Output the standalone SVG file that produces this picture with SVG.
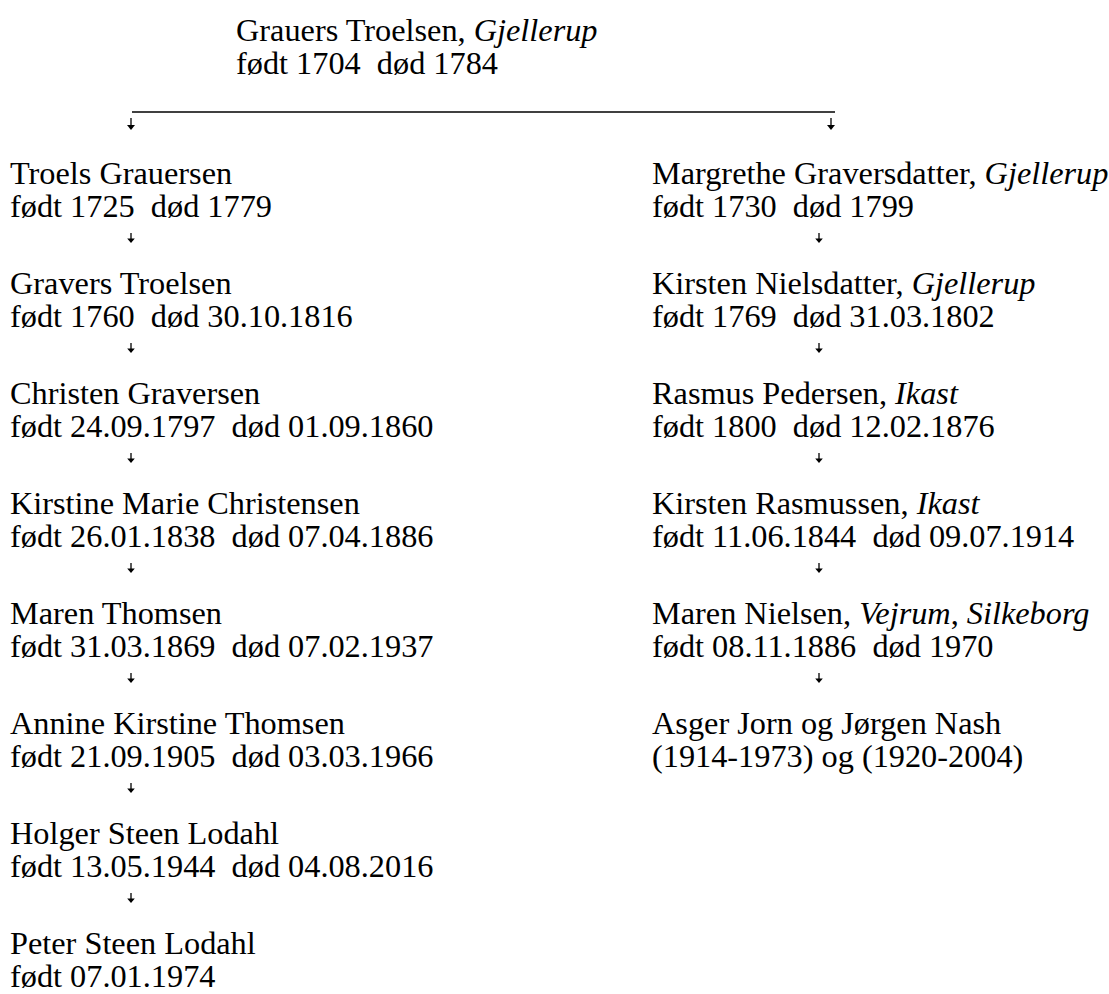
<svg xmlns="http://www.w3.org/2000/svg" xmlns:xlink="http://www.w3.org/1999/xlink" width="1109" height="994" viewBox="0 0 1109 994">
<style>
text{font-family:"Liberation Serif","Times New Roman",serif;font-size:32.3px;fill:#000;white-space:pre}
.i{font-style:italic}
</style>
<defs>
<g id="arr"><line x1="0" y1="0" x2="0" y2="7" stroke="#000" stroke-width="1.3"/><path d="M-3.8,5.5 L3.8,5.5 L0,10 Z" fill="#000"/></g>
<g id="arrT"><line x1="0" y1="0" x2="0" y2="8" stroke="#000" stroke-width="1.3"/><path d="M-4,7 L4,7 L0,12 Z" fill="#000"/></g>
</defs>
<rect width="1109" height="994" fill="#fff"/>
<g id="n-root"><text x="236" y="41">Grauers Troelsen, <tspan class="i">Gjellerup</tspan></text><text x="236" y="74">født 1704  død 1784</text></g>
<g id="connectors">
<line x1="132" y1="112" x2="835" y2="112" stroke="#000" stroke-width="1.3"/>
<use xlink:href="#arrT" x="131" y="118"/>
<use xlink:href="#arrT" x="831" y="118"/>
<use xlink:href="#arr" x="131" y="233"/>
<use xlink:href="#arr" x="131" y="343"/>
<use xlink:href="#arr" x="131" y="453"/>
<use xlink:href="#arr" x="131" y="563"/>
<use xlink:href="#arr" x="131" y="673"/>
<use xlink:href="#arr" x="131" y="783"/>
<use xlink:href="#arr" x="131" y="893"/>
<use xlink:href="#arr" x="819" y="233"/>
<use xlink:href="#arr" x="819" y="343"/>
<use xlink:href="#arr" x="819" y="453"/>
<use xlink:href="#arr" x="819" y="563"/>
<use xlink:href="#arr" x="819" y="673"/>
</g>
<g id="n-l0"><text x="10" y="184">Troels Grauersen</text><text x="10" y="217">født 1725  død 1779</text></g>
<g id="n-l1"><text x="10" y="294">Gravers Troelsen</text><text x="10" y="327">født 1760  død 30.10.1816</text></g>
<g id="n-l2"><text x="10" y="404">Christen Graversen</text><text x="10" y="437">født 24.09.1797  død 01.09.1860</text></g>
<g id="n-l3"><text x="10" y="514">Kirstine Marie Christensen</text><text x="10" y="547">født 26.01.1838  død 07.04.1886</text></g>
<g id="n-l4"><text x="10" y="624">Maren Thomsen</text><text x="10" y="657">født 31.03.1869  død 07.02.1937</text></g>
<g id="n-l5"><text x="10" y="734">Annine Kirstine Thomsen</text><text x="10" y="767">født 21.09.1905  død 03.03.1966</text></g>
<g id="n-l6"><text x="10" y="844">Holger Steen Lodahl</text><text x="10" y="877">født 13.05.1944  død 04.08.2016</text></g>
<g id="n-l7"><text x="10" y="954">Peter Steen Lodahl</text><text x="10" y="987">født 07.01.1974</text></g>
<g id="n-r0"><text x="652" y="184">Margrethe Graversdatter, <tspan class="i">Gjellerup</tspan></text><text x="652" y="217">født 1730  død 1799</text></g>
<g id="n-r1"><text x="652" y="294">Kirsten Nielsdatter, <tspan class="i">Gjellerup</tspan></text><text x="652" y="327">født 1769  død 31.03.1802</text></g>
<g id="n-r2"><text x="652" y="404">Rasmus Pedersen, <tspan class="i">Ikast</tspan></text><text x="652" y="437">født 1800  død 12.02.1876</text></g>
<g id="n-r3"><text x="652" y="514">Kirsten Rasmussen, <tspan class="i">Ikast</tspan></text><text x="652" y="547">født 11.06.1844  død 09.07.1914</text></g>
<g id="n-r4"><text x="652" y="624">Maren Nielsen, <tspan class="i">Vejrum</tspan>, <tspan class="i">Silkeborg</tspan></text><text x="652" y="657">født 08.11.1886  død 1970</text></g>
<g id="n-r5"><text x="652" y="734">Asger Jorn og Jørgen Nash</text><text x="652" y="767">(1914-1973) og (1920-2004)</text></g>
</svg>
